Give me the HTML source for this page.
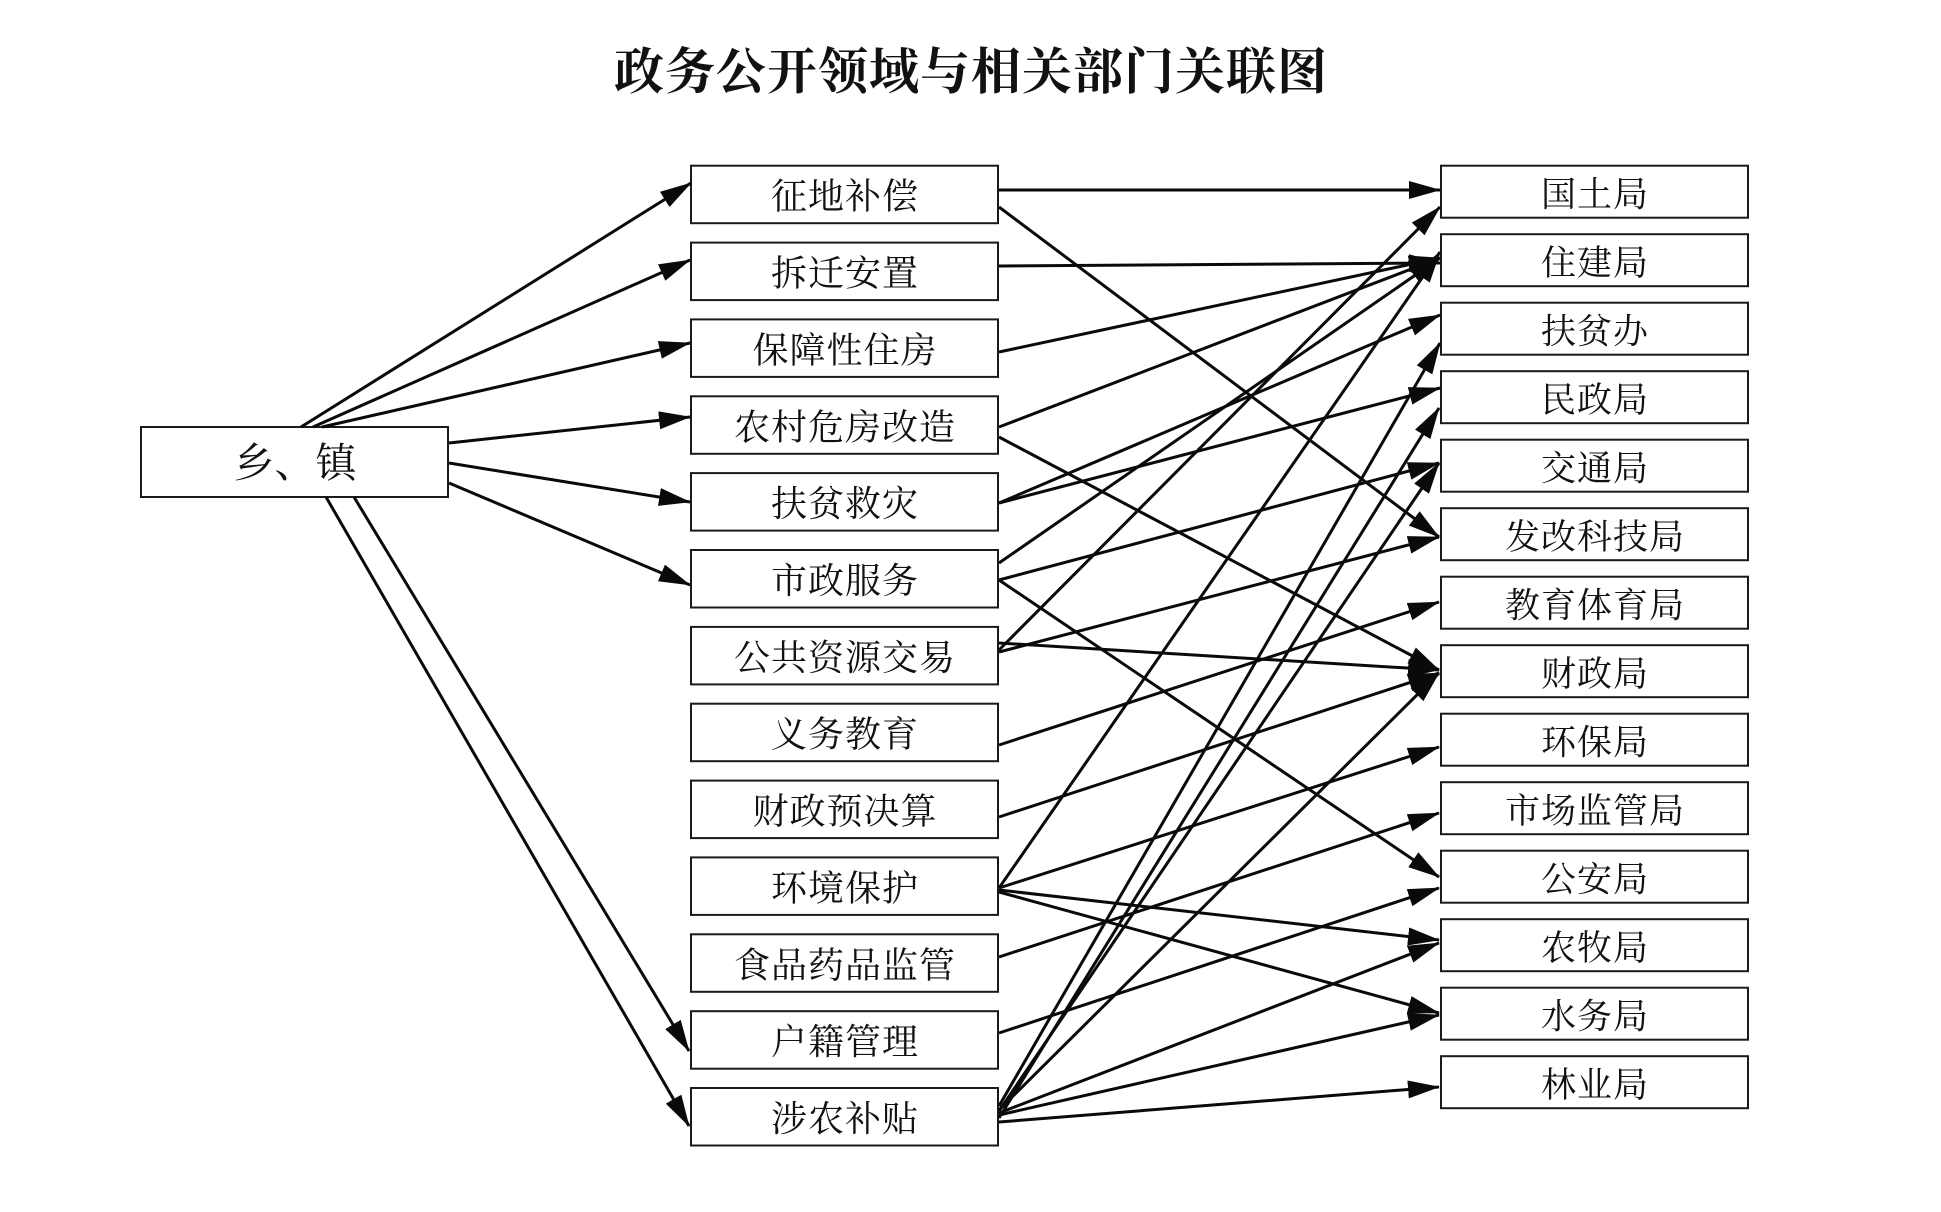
<!DOCTYPE html>
<html>
<head>
<meta charset="utf-8">
<style>
  html, body { margin: 0; padding: 0; background: #ffffff; }
  svg { display: block; }
  .t { font-family: "Liberation Serif", "Noto Serif CJK SC", "Noto Sans CJK SC", serif; fill: #111; }
</style>
</head>
<body>
<svg width="1941" height="1212" viewBox="0 0 1941 1212" xmlns="http://www.w3.org/2000/svg">
  <defs>
    <marker id="ah" markerUnits="userSpaceOnUse" markerWidth="32" markerHeight="18" refX="31" refY="9" orient="auto" viewBox="0 0 32 18">
      <path d="M0,0 L32,9 L0,18 Z" fill="#0a0a0a"/>
    </marker>
  </defs>
  <rect x="0" y="0" width="1941" height="1212" fill="#fff"/>

  <!-- Title -->
  <text class="t" x="971" y="89" font-size="50" font-weight="bold" text-anchor="middle" letter-spacing="1">政务公开领域与相关部门关联图</text>

  <!-- Left box -->
  <rect x="141" y="427" width="307" height="70" fill="#fff" stroke="#1a1a1a" stroke-width="2"/>
  <text class="t" x="295" y="477" font-size="41" text-anchor="middle">乡、镇</text>

  <!-- Middle boxes -->
  <g fill="#fff" stroke="#1a1a1a" stroke-width="2">
    <rect x="691" y="165.7" width="307" height="57.5"/>
    <rect x="691" y="242.6" width="307" height="57.5"/>
    <rect x="691" y="319.4" width="307" height="57.5"/>
    <rect x="691" y="396.3" width="307" height="57.5"/>
    <rect x="691" y="473.1" width="307" height="57.5"/>
    <rect x="691" y="550.0" width="307" height="57.5"/>
    <rect x="691" y="626.9" width="307" height="57.5"/>
    <rect x="691" y="703.7" width="307" height="57.5"/>
    <rect x="691" y="780.6" width="307" height="57.5"/>
    <rect x="691" y="857.4" width="307" height="57.5"/>
    <rect x="691" y="934.3" width="307" height="57.5"/>
    <rect x="691" y="1011.2" width="307" height="57.5"/>
    <rect x="691" y="1088.0" width="307" height="57.5"/>
  </g>
  <g class="t" font-size="36" text-anchor="middle" letter-spacing="1">
    <text class="t" x="845" y="208.7">征地补偿</text>
    <text class="t" x="845" y="285.6">拆迁安置</text>
    <text class="t" x="845" y="362.4">保障性住房</text>
    <text class="t" x="845" y="439.3">农村危房改造</text>
    <text class="t" x="845" y="516.1">扶贫救灾</text>
    <text class="t" x="845" y="593.0">市政服务</text>
    <text class="t" x="845" y="669.9">公共资源交易</text>
    <text class="t" x="845" y="746.7">义务教育</text>
    <text class="t" x="845" y="823.6">财政预决算</text>
    <text class="t" x="845" y="900.4">环境保护</text>
    <text class="t" x="845" y="977.3">食品药品监管</text>
    <text class="t" x="845" y="1054.2">户籍管理</text>
    <text class="t" x="845" y="1131.0">涉农补贴</text>
  </g>

  <!-- Right boxes -->
  <g fill="#fff" stroke="#1a1a1a" stroke-width="2">
    <rect x="1441" y="165.7" width="307" height="52"/>
    <rect x="1441" y="234.2" width="307" height="52"/>
    <rect x="1441" y="302.7" width="307" height="52"/>
    <rect x="1441" y="371.2" width="307" height="52"/>
    <rect x="1441" y="439.7" width="307" height="52"/>
    <rect x="1441" y="508.2" width="307" height="52"/>
    <rect x="1441" y="576.7" width="307" height="52"/>
    <rect x="1441" y="645.2" width="307" height="52"/>
    <rect x="1441" y="713.7" width="307" height="52"/>
    <rect x="1441" y="782.2" width="307" height="52"/>
    <rect x="1441" y="850.7" width="307" height="52"/>
    <rect x="1441" y="919.2" width="307" height="52"/>
    <rect x="1441" y="987.7" width="307" height="52"/>
    <rect x="1441" y="1056.2" width="307" height="52"/>
  </g>
  <g font-size="35" text-anchor="middle" letter-spacing="1">
    <text class="t" x="1595" y="206.7">国土局</text>
    <text class="t" x="1595" y="275.2">住建局</text>
    <text class="t" x="1595" y="343.7">扶贫办</text>
    <text class="t" x="1595" y="412.2">民政局</text>
    <text class="t" x="1595" y="480.7">交通局</text>
    <text class="t" x="1595" y="549.2">发改科技局</text>
    <text class="t" x="1595" y="617.7">教育体育局</text>
    <text class="t" x="1595" y="686.2">财政局</text>
    <text class="t" x="1595" y="754.7">环保局</text>
    <text class="t" x="1595" y="823.2">市场监管局</text>
    <text class="t" x="1595" y="891.7">公安局</text>
    <text class="t" x="1595" y="960.2">农牧局</text>
    <text class="t" x="1595" y="1028.7">水务局</text>
    <text class="t" x="1595" y="1097.2">林业局</text>
  </g>

  <!-- Connectors: 乡、镇 -> middle -->
  <g stroke="#0a0a0a" stroke-width="3" fill="none" marker-end="url(#ah)">
    <line x1="301" y1="427" x2="691" y2="183"/>
    <line x1="313" y1="427" x2="690" y2="260"/>
    <line x1="322" y1="427" x2="690" y2="343"/>
    <line x1="449" y1="443" x2="690" y2="417"/>
    <line x1="449" y1="463" x2="690" y2="502"/>
    <line x1="449" y1="483" x2="690" y2="585"/>
    <line x1="326" y1="497" x2="689" y2="1126"/>
    <line x1="354" y1="497" x2="689" y2="1051"/>
  </g>

  <!-- Connectors: middle -> right -->
  <g stroke="#0a0a0a" stroke-width="3" fill="none" marker-end="url(#ah)">
    <line x1="999" y1="190" x2="1440" y2="190"/>
    <line x1="999" y1="207" x2="1439" y2="537"/>
    <line x1="999" y1="266" x2="1440" y2="263"/>
    <line x1="999" y1="352" x2="1440" y2="258"/>
    <line x1="999" y1="427" x2="1440" y2="258"/>
    <line x1="999" y1="437" x2="1439" y2="670"/>
    <line x1="999" y1="503" x2="1440" y2="315"/>
    <line x1="999" y1="503" x2="1440" y2="388"/>
    <line x1="999" y1="563" x2="1440" y2="258"/>
    <line x1="999" y1="580" x2="1439" y2="463"/>
    <line x1="999" y1="580" x2="1439" y2="877"/>
    <line x1="999" y1="650" x2="1440" y2="207"/>
    <line x1="999" y1="652" x2="1439" y2="537"/>
    <line x1="999" y1="643" x2="1439" y2="670"/>
    <line x1="999" y1="745" x2="1439" y2="602"/>
    <line x1="999" y1="817" x2="1439" y2="673"/>
    <line x1="999" y1="888" x2="1440" y2="252"/>
    <line x1="999" y1="888" x2="1439" y2="747"/>
    <line x1="999" y1="890" x2="1439" y2="940"/>
    <line x1="999" y1="892" x2="1439" y2="1013"/>
    <line x1="999" y1="957" x2="1439" y2="813"/>
    <line x1="999" y1="1033" x2="1439" y2="888"/>
    <line x1="999" y1="1106" x2="1440" y2="343"/>
    <line x1="999" y1="1118" x2="1439" y2="408"/>
    <line x1="999" y1="1111" x2="1439" y2="463"/>
    <line x1="999" y1="1110" x2="1439" y2="673"/>
    <line x1="999" y1="1113" x2="1439" y2="943"/>
    <line x1="999" y1="1115" x2="1439" y2="1015"/>
    <line x1="999" y1="1122" x2="1439" y2="1087"/>
  </g>
</svg>
</body>
</html>
